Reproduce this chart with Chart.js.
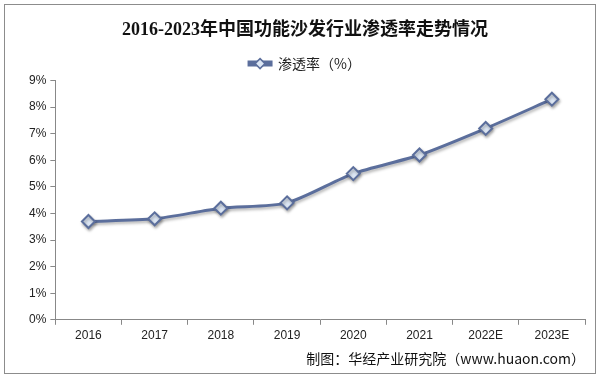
<!DOCTYPE html>
<html>
<head>
<meta charset="utf-8">
<script src="https://cdn.jsdelivr.net/npm/chart.js@4"></script>
<style>
    html, body { margin: 0; padding: 0; background: #fff; }
    #wrap { width: 600px; height: 378px; position: relative; }
</style>
</head>
<body>
<div id="wrap"><canvas id="penetrationChart"></canvas></div>
<script>
// 2016-2023 功能沙发行业渗透率
const years = ['2016', '2017', '2018', '2019', '2020', '2021', '2022E', '2023E'];
const penetration = [3.7, 3.8, 4.2, 4.4, 5.5, 6.2, 7.2, 8.3];
const yTicks = [0, 1, 2, 3, 4, 5, 6, 7, 8, 9];

const lineColor = '#5b6e9c';
const markerFill = '#dde7f5';

// outer frame + diamond on the legend line + soft shadow under the series
const framePlugin = {
    id: 'frame',
    beforeDraw(chart) {
        const ctx = chart.ctx;
        ctx.save();
        ctx.fillStyle = '#fff';
        ctx.fillRect(0, 0, chart.width, chart.height);
        ctx.strokeStyle = '#8c8c8c';
        ctx.lineWidth = 1;
        ctx.strokeRect(4.5, 4.5, chart.width - 9, chart.height - 9);
        ctx.restore();
    },
    beforeDatasetDraw(chart) {
        const ctx = chart.ctx;
        ctx.save();
        ctx.shadowColor = 'rgba(0,0,0,0.3)';
        ctx.shadowBlur = 3;
        ctx.shadowOffsetX = 1;
        ctx.shadowOffsetY = 2;
    },
    afterDatasetDraw(chart) {
        chart.ctx.restore();
    },
    afterDraw(chart) {
        const box = chart.legend.legendHitBoxes[0];
        if (!box) return;
        const ctx = chart.ctx;
        const cx = box.left + 11;
        const cy = box.top + box.height / 2;
        ctx.save();
        ctx.beginPath();
        ctx.moveTo(cx, cy - 5);
        ctx.lineTo(cx + 5, cy);
        ctx.lineTo(cx, cy + 5);
        ctx.lineTo(cx - 5, cy);
        ctx.closePath();
        ctx.fillStyle = markerFill;
        ctx.fill();
        ctx.strokeStyle = lineColor;
        ctx.lineWidth = 1.5;
        ctx.stroke();
        ctx.restore();
    }
};

const ctx = document.getElementById('penetrationChart').getContext('2d');
new Chart(ctx, {
    type: 'line',
    data: {
        labels: years,
        datasets: [{
            label: '渗透率（%）',
            data: penetration,
            borderColor: lineColor,
            backgroundColor: lineColor,
            borderWidth: 3,
            tension: 0.25,
            pointStyle: 'rectRot',
            pointRadius: 6.5,
            pointBackgroundColor: markerFill,
            pointBorderColor: lineColor,
            pointBorderWidth: 2
        }]
    },
    options: {
        responsive: true,
        maintainAspectRatio: false,
        animation: false,
        layout: { padding: { left: 25, right: 15, top: 16, bottom: 11 } },
        plugins: {
            title: {
                display: true,
                text: '2016-2023年中国功能沙发行业渗透率走势情况',
                font: { family: "'Liberation Serif', 'Noto Sans CJK SC'", size: 18, weight: 'bold' },
                color: '#111',
                padding: { top: 4, bottom: 10 }
            },
            subtitle: {
                display: true,
                position: 'bottom',
                align: 'end',
                text: '制图：华经产业研究院（www.huaon.com）',
                font: { family: "'Noto Sans CJK SC', 'Liberation Sans'", size: 14 },
                color: '#111',
                padding: { top: 3, bottom: 0 }
            },
            legend: {
                position: 'top',
                labels: {
                    boxWidth: 22,
                    boxHeight: 3,
                    color: '#222',
                    font: { family: "'Noto Sans CJK SC', 'Liberation Sans'", size: 14 },
                    padding: 5
                }
            },
            tooltip: { enabled: false }
        },
        scales: {
            x: {
                offset: true,
                grid: {
                    offset: true,
                    drawOnChartArea: false,
                    tickLength: 5,
                    color: '#888'
                },
                border: { color: '#888' },
                ticks: {
                    color: '#222',
                    font: { family: "'Liberation Sans', Arial", size: 12 },
                    padding: 4
                }
            },
            y: {
                min: 0,
                max: 9,
                afterBuildTicks(axis) {
                    axis.ticks = yTicks.map(v => ({ value: v }));
                },
                grid: {
                    drawOnChartArea: false,
                    tickLength: 5,
                    color: '#888'
                },
                border: { color: '#888' },
                ticks: {
                    color: '#222',
                    font: { family: "'Liberation Sans', Arial", size: 12 },
                    padding: 4,
                    callback: v => v + '%'
                }
            }
        }
    },
    plugins: [framePlugin]
});
</script>
</body>
</html>
